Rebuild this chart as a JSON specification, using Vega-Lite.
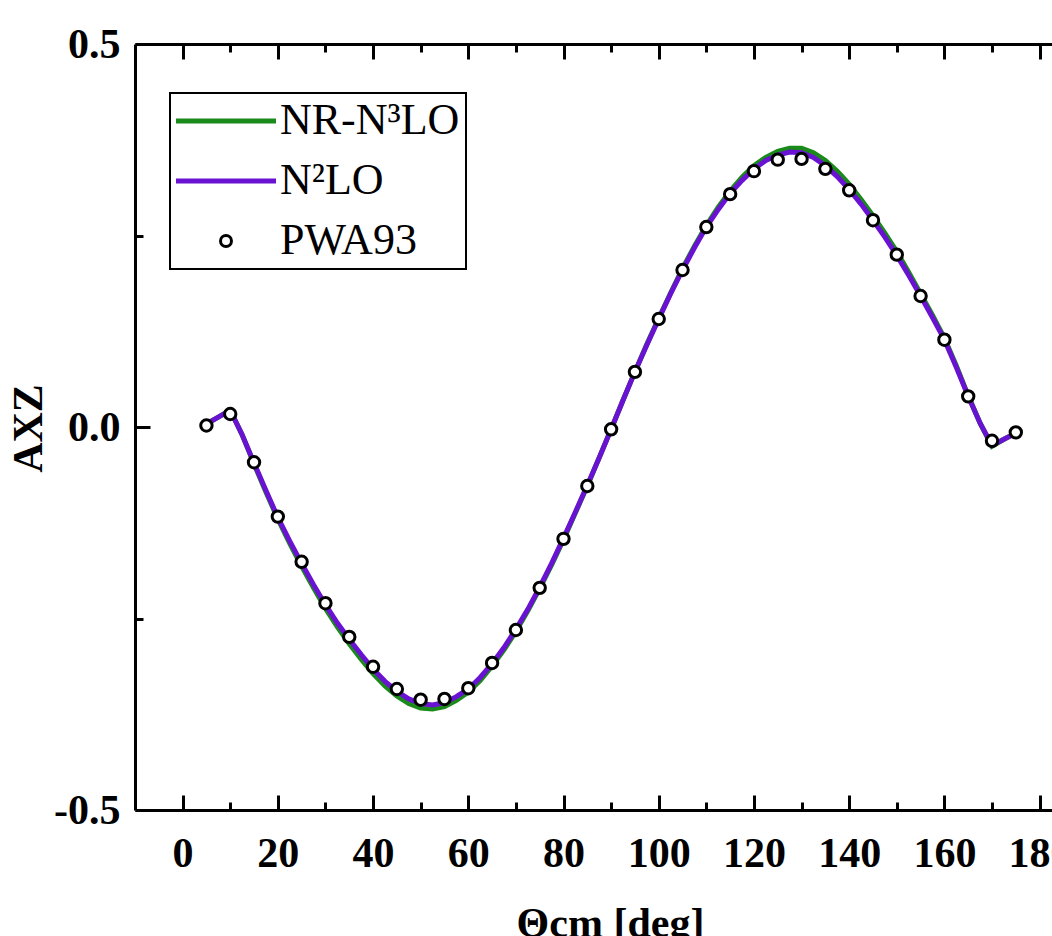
{
  "$schema": "https://vega.github.io/schema/vega-lite/v6.json",
  "width": 917,
  "height": 766,
  "autosize": "none",
  "padding": {"left": 135, "top": 44, "right": 0, "bottom": 126},
  "background": "white",
  "config": {
    "view": {"stroke": null},
    "axis": {
      "grid": false,
      "domainColor": "black",
      "domainWidth": 3,
      "tickColor": "black",
      "tickWidth": 3,
      "labelFont": "Liberation Serif",
      "labelFontWeight": "bold",
      "labelFontSize": 42,
      "labelColor": "black",
      "titleFont": "Liberation Serif",
      "titleFontWeight": "bold",
      "titleFontSize": 42,
      "titleColor": "black",
      "labelFlush": false,
      "labelOverlap": false
    }
  },
  "datasets": {
    "curves": [
      {"theta": 5, "AXZ": 0.004, "series": "NR-N³LO"},
      {"theta": 7.5, "AXZ": 0.013, "series": "NR-N³LO"},
      {"theta": 10, "AXZ": 0.022, "series": "NR-N³LO"},
      {"theta": 12.5, "AXZ": -0.010, "series": "NR-N³LO"},
      {"theta": 15, "AXZ": -0.048, "series": "NR-N³LO"},
      {"theta": 17.5, "AXZ": -0.085, "series": "NR-N³LO"},
      {"theta": 20, "AXZ": -0.120, "series": "NR-N³LO"},
      {"theta": 22.5, "AXZ": -0.152, "series": "NR-N³LO"},
      {"theta": 25, "AXZ": -0.182, "series": "NR-N³LO"},
      {"theta": 27.5, "AXZ": -0.210, "series": "NR-N³LO"},
      {"theta": 30, "AXZ": -0.237, "series": "NR-N³LO"},
      {"theta": 32.5, "AXZ": -0.261, "series": "NR-N³LO"},
      {"theta": 35, "AXZ": -0.283, "series": "NR-N³LO"},
      {"theta": 37.5, "AXZ": -0.303, "series": "NR-N³LO"},
      {"theta": 40, "AXZ": -0.322, "series": "NR-N³LO"},
      {"theta": 42.5, "AXZ": -0.338, "series": "NR-N³LO"},
      {"theta": 45, "AXZ": -0.351, "series": "NR-N³LO"},
      {"theta": 47.5, "AXZ": -0.361, "series": "NR-N³LO"},
      {"theta": 50, "AXZ": -0.367, "series": "NR-N³LO"},
      {"theta": 52.5, "AXZ": -0.368, "series": "NR-N³LO"},
      {"theta": 55, "AXZ": -0.365, "series": "NR-N³LO"},
      {"theta": 57.5, "AXZ": -0.357, "series": "NR-N³LO"},
      {"theta": 60, "AXZ": -0.346, "series": "NR-N³LO"},
      {"theta": 62.5, "AXZ": -0.331, "series": "NR-N³LO"},
      {"theta": 65, "AXZ": -0.312, "series": "NR-N³LO"},
      {"theta": 67.5, "AXZ": -0.291, "series": "NR-N³LO"},
      {"theta": 70, "AXZ": -0.267, "series": "NR-N³LO"},
      {"theta": 72.5, "AXZ": -0.240, "series": "NR-N³LO"},
      {"theta": 75, "AXZ": -0.211, "series": "NR-N³LO"},
      {"theta": 77.5, "AXZ": -0.180, "series": "NR-N³LO"},
      {"theta": 80, "AXZ": -0.147, "series": "NR-N³LO"},
      {"theta": 82.5, "AXZ": -0.112, "series": "NR-N³LO"},
      {"theta": 85, "AXZ": -0.077, "series": "NR-N³LO"},
      {"theta": 87.5, "AXZ": -0.040, "series": "NR-N³LO"},
      {"theta": 90, "AXZ": -0.003, "series": "NR-N³LO"},
      {"theta": 92.5, "AXZ": 0.035, "series": "NR-N³LO"},
      {"theta": 95, "AXZ": 0.072, "series": "NR-N³LO"},
      {"theta": 97.5, "AXZ": 0.108, "series": "NR-N³LO"},
      {"theta": 100, "AXZ": 0.142, "series": "NR-N³LO"},
      {"theta": 102.5, "AXZ": 0.175, "series": "NR-N³LO"},
      {"theta": 105, "AXZ": 0.207, "series": "NR-N³LO"},
      {"theta": 107.5, "AXZ": 0.236, "series": "NR-N³LO"},
      {"theta": 110, "AXZ": 0.263, "series": "NR-N³LO"},
      {"theta": 112.5, "AXZ": 0.287, "series": "NR-N³LO"},
      {"theta": 115, "AXZ": 0.308, "series": "NR-N³LO"},
      {"theta": 117.5, "AXZ": 0.326, "series": "NR-N³LO"},
      {"theta": 120, "AXZ": 0.341, "series": "NR-N³LO"},
      {"theta": 122.5, "AXZ": 0.352, "series": "NR-N³LO"},
      {"theta": 125, "AXZ": 0.360, "series": "NR-N³LO"},
      {"theta": 127.5, "AXZ": 0.364, "series": "NR-N³LO"},
      {"theta": 130, "AXZ": 0.364, "series": "NR-N³LO"},
      {"theta": 132.5, "AXZ": 0.358, "series": "NR-N³LO"},
      {"theta": 135, "AXZ": 0.348, "series": "NR-N³LO"},
      {"theta": 137.5, "AXZ": 0.334, "series": "NR-N³LO"},
      {"theta": 140, "AXZ": 0.317, "series": "NR-N³LO"},
      {"theta": 142.5, "AXZ": 0.297, "series": "NR-N³LO"},
      {"theta": 145, "AXZ": 0.276, "series": "NR-N³LO"},
      {"theta": 147.5, "AXZ": 0.253, "series": "NR-N³LO"},
      {"theta": 150, "AXZ": 0.229, "series": "NR-N³LO"},
      {"theta": 152.5, "AXZ": 0.202, "series": "NR-N³LO"},
      {"theta": 155, "AXZ": 0.174, "series": "NR-N³LO"},
      {"theta": 157.5, "AXZ": 0.146, "series": "NR-N³LO"},
      {"theta": 160, "AXZ": 0.116, "series": "NR-N³LO"},
      {"theta": 162.5, "AXZ": 0.080, "series": "NR-N³LO"},
      {"theta": 165, "AXZ": 0.041, "series": "NR-N³LO"},
      {"theta": 167.5, "AXZ": 0.005, "series": "NR-N³LO"},
      {"theta": 170, "AXZ": -0.025, "series": "NR-N³LO"},
      {"theta": 172.5, "AXZ": -0.016, "series": "NR-N³LO"},
      {"theta": 175, "AXZ": -0.008, "series": "NR-N³LO"},
      {"theta": 5, "AXZ": 0.004, "series": "N²LO"},
      {"theta": 7.5, "AXZ": 0.013, "series": "N²LO"},
      {"theta": 10, "AXZ": 0.022, "series": "N²LO"},
      {"theta": 12.5, "AXZ": -0.010, "series": "N²LO"},
      {"theta": 15, "AXZ": -0.047, "series": "N²LO"},
      {"theta": 17.5, "AXZ": -0.083, "series": "N²LO"},
      {"theta": 20, "AXZ": -0.118, "series": "N²LO"},
      {"theta": 22.5, "AXZ": -0.149, "series": "N²LO"},
      {"theta": 25, "AXZ": -0.178, "series": "N²LO"},
      {"theta": 27.5, "AXZ": -0.206, "series": "N²LO"},
      {"theta": 30, "AXZ": -0.232, "series": "N²LO"},
      {"theta": 32.5, "AXZ": -0.256, "series": "N²LO"},
      {"theta": 35, "AXZ": -0.277, "series": "N²LO"},
      {"theta": 37.5, "AXZ": -0.297, "series": "N²LO"},
      {"theta": 40, "AXZ": -0.316, "series": "N²LO"},
      {"theta": 42.5, "AXZ": -0.332, "series": "N²LO"},
      {"theta": 45, "AXZ": -0.345, "series": "N²LO"},
      {"theta": 47.5, "AXZ": -0.355, "series": "N²LO"},
      {"theta": 50, "AXZ": -0.361, "series": "N²LO"},
      {"theta": 52.5, "AXZ": -0.363, "series": "N²LO"},
      {"theta": 55, "AXZ": -0.360, "series": "N²LO"},
      {"theta": 57.5, "AXZ": -0.352, "series": "N²LO"},
      {"theta": 60, "AXZ": -0.342, "series": "N²LO"},
      {"theta": 62.5, "AXZ": -0.327, "series": "N²LO"},
      {"theta": 65, "AXZ": -0.309, "series": "N²LO"},
      {"theta": 67.5, "AXZ": -0.288, "series": "N²LO"},
      {"theta": 70, "AXZ": -0.264, "series": "N²LO"},
      {"theta": 72.5, "AXZ": -0.238, "series": "N²LO"},
      {"theta": 75, "AXZ": -0.209, "series": "N²LO"},
      {"theta": 77.5, "AXZ": -0.178, "series": "N²LO"},
      {"theta": 80, "AXZ": -0.145, "series": "N²LO"},
      {"theta": 82.5, "AXZ": -0.111, "series": "N²LO"},
      {"theta": 85, "AXZ": -0.076, "series": "N²LO"},
      {"theta": 87.5, "AXZ": -0.040, "series": "N²LO"},
      {"theta": 90, "AXZ": -0.003, "series": "N²LO"},
      {"theta": 92.5, "AXZ": 0.035, "series": "N²LO"},
      {"theta": 95, "AXZ": 0.072, "series": "N²LO"},
      {"theta": 97.5, "AXZ": 0.107, "series": "N²LO"},
      {"theta": 100, "AXZ": 0.141, "series": "N²LO"},
      {"theta": 102.5, "AXZ": 0.174, "series": "N²LO"},
      {"theta": 105, "AXZ": 0.205, "series": "N²LO"},
      {"theta": 107.5, "AXZ": 0.234, "series": "N²LO"},
      {"theta": 110, "AXZ": 0.261, "series": "N²LO"},
      {"theta": 112.5, "AXZ": 0.284, "series": "N²LO"},
      {"theta": 115, "AXZ": 0.305, "series": "N²LO"},
      {"theta": 117.5, "AXZ": 0.322, "series": "N²LO"},
      {"theta": 120, "AXZ": 0.337, "series": "N²LO"},
      {"theta": 122.5, "AXZ": 0.348, "series": "N²LO"},
      {"theta": 125, "AXZ": 0.355, "series": "N²LO"},
      {"theta": 127.5, "AXZ": 0.359, "series": "N²LO"},
      {"theta": 130, "AXZ": 0.358, "series": "N²LO"},
      {"theta": 132.5, "AXZ": 0.352, "series": "N²LO"},
      {"theta": 135, "AXZ": 0.341, "series": "N²LO"},
      {"theta": 137.5, "AXZ": 0.327, "series": "N²LO"},
      {"theta": 140, "AXZ": 0.310, "series": "N²LO"},
      {"theta": 142.5, "AXZ": 0.291, "series": "N²LO"},
      {"theta": 145, "AXZ": 0.270, "series": "N²LO"},
      {"theta": 147.5, "AXZ": 0.248, "series": "N²LO"},
      {"theta": 150, "AXZ": 0.224, "series": "N²LO"},
      {"theta": 152.5, "AXZ": 0.198, "series": "N²LO"},
      {"theta": 155, "AXZ": 0.171, "series": "N²LO"},
      {"theta": 157.5, "AXZ": 0.143, "series": "N²LO"},
      {"theta": 160, "AXZ": 0.114, "series": "N²LO"},
      {"theta": 162.5, "AXZ": 0.078, "series": "N²LO"},
      {"theta": 165, "AXZ": 0.040, "series": "N²LO"},
      {"theta": 167.5, "AXZ": 0.005, "series": "N²LO"},
      {"theta": 170, "AXZ": -0.024, "series": "N²LO"},
      {"theta": 172.5, "AXZ": -0.016, "series": "N²LO"},
      {"theta": 175, "AXZ": -0.008, "series": "N²LO"}
    ],
    "pwa": [
      {"theta": 5, "AXZ": 0.002, "series": "PWA93"},
      {"theta": 10, "AXZ": 0.017, "series": "PWA93"},
      {"theta": 15, "AXZ": -0.046, "series": "PWA93"},
      {"theta": 20, "AXZ": -0.117, "series": "PWA93"},
      {"theta": 25, "AXZ": -0.176, "series": "PWA93"},
      {"theta": 30, "AXZ": -0.230, "series": "PWA93"},
      {"theta": 35, "AXZ": -0.274, "series": "PWA93"},
      {"theta": 40, "AXZ": -0.313, "series": "PWA93"},
      {"theta": 45, "AXZ": -0.342, "series": "PWA93"},
      {"theta": 50, "AXZ": -0.356, "series": "PWA93"},
      {"theta": 55, "AXZ": -0.355, "series": "PWA93"},
      {"theta": 60, "AXZ": -0.341, "series": "PWA93"},
      {"theta": 65, "AXZ": -0.308, "series": "PWA93"},
      {"theta": 70, "AXZ": -0.265, "series": "PWA93"},
      {"theta": 75, "AXZ": -0.210, "series": "PWA93"},
      {"theta": 80, "AXZ": -0.146, "series": "PWA93"},
      {"theta": 85, "AXZ": -0.077, "series": "PWA93"},
      {"theta": 90, "AXZ": -0.003, "series": "PWA93"},
      {"theta": 95, "AXZ": 0.072, "series": "PWA93"},
      {"theta": 100, "AXZ": 0.141, "series": "PWA93"},
      {"theta": 105, "AXZ": 0.205, "series": "PWA93"},
      {"theta": 110, "AXZ": 0.261, "series": "PWA93"},
      {"theta": 115, "AXZ": 0.304, "series": "PWA93"},
      {"theta": 120, "AXZ": 0.334, "series": "PWA93"},
      {"theta": 125, "AXZ": 0.349, "series": "PWA93"},
      {"theta": 130, "AXZ": 0.350, "series": "PWA93"},
      {"theta": 135, "AXZ": 0.337, "series": "PWA93"},
      {"theta": 140, "AXZ": 0.309, "series": "PWA93"},
      {"theta": 145, "AXZ": 0.270, "series": "PWA93"},
      {"theta": 150, "AXZ": 0.225, "series": "PWA93"},
      {"theta": 155, "AXZ": 0.171, "series": "PWA93"},
      {"theta": 160, "AXZ": 0.114, "series": "PWA93"},
      {"theta": 165, "AXZ": 0.040, "series": "PWA93"},
      {"theta": 170, "AXZ": -0.018, "series": "PWA93"},
      {"theta": 175, "AXZ": -0.007, "series": "PWA93"}
    ]
  },
  "resolve": {"axis": {"x": "independent", "y": "independent"}},
  "layer": [
    {
      "data": {"name": "curves"},
      "transform": [{"filter": "datum.series === 'NR-N³LO'"}],
      "mark": {"type": "line", "strokeWidth": 5, "clip": true},
      "encoding": {
        "x": {
          "field": "theta", "type": "quantitative",
          "scale": {"domain": [-10, 182.6], "nice": false, "zero": false},
          "axis": {
            "orient": "bottom",
            "title": "Θcm [deg]",
            "values": [0, 10, 20, 30, 40, 50, 60, 70, 80, 90, 100, 110, 120, 130, 140, 150, 160, 170, 180],
            "labelExpr": "datum.value % 20 === 0 ? format(datum.value, 'd') : ''",
            "tickSize": {"condition": {"test": "datum.value % 20 === 0", "value": -15}, "value": -8},
            "labelPadding": 38,
            "titleX": 475,
            "titleY": 126,
            "titleBaseline": "alphabetic",
            "titleAnchor": null
          }
        },
        "y": {
          "field": "AXZ", "type": "quantitative",
          "scale": {"domain": [-0.5, 0.5], "nice": false},
          "axis": {
            "orient": "left",
            "title": "AXZ",
            "values": [-0.5, -0.25, 0, 0.25, 0.5],
            "labelExpr": "abs(datum.value) === 0.25 ? '' : replace(format(datum.value, '.1f'), '−', '-')",
            "tickSize": {"condition": {"test": "abs(datum.value) === 0.25", "value": -8}, "value": -15},
            "labelPadding": 30,
            "titleAngle": -90,
            "titleX": -107,
            "titleY": 384,
            "titleAlign": "center",
            "titleBaseline": "middle",
            "titleAnchor": null
          }
        },
        "color": {
          "field": "series", "type": "nominal",
          "scale": {"domain": ["NR-N³LO", "N²LO", "PWA93"], "range": ["#1a8a1a", "#6a12d2", "black"]},
          "legend": {
            "orient": "none",
            "legendX": 35,
            "legendY": 49,
            "title": null,
            "strokeColor": "black",
            "padding": 6,
            "labelFont": "Liberation Serif",
            "labelFontSize": 44,
            "labelColor": "black",
            "labelLimit": 0,
            "labelOffset": 5,
            "symbolSize": 10000,
            "symbolType": "stroke",
            "symbolStrokeWidth": 5,
            "rowPadding": 16,
            "encode": {
              "legend": {"update": {"strokeWidth": {"value": 2}}},
              "symbols": {
                "update": {
                  "x": {"value": 50},
                  "shape": {"signal": "datum.value === 'PWA93' ? 'circle' : 'stroke'"},
                  "size": {"signal": "datum.value === 'PWA93' ? 120 : 10000"},
                  "strokeWidth": {"signal": "datum.value === 'PWA93' ? 3 : 5"},
                  "fill": {"signal": "datum.value === 'PWA93' ? 'white' : 'transparent'"},
                  "opacity": {"value": 1}
                }
              },
              "labels": {"update": {"x": {"value": 104}}}
            }
          }
        }
      }
    },
    {
      "data": {"name": "curves"},
      "transform": [{"filter": "datum.series === 'N²LO'"}],
      "mark": {"type": "line", "strokeWidth": 5, "clip": true},
      "encoding": {
        "x": {
          "field": "theta", "type": "quantitative",
          "axis": {
            "orient": "top",
            "title": null,
            "labels": false,
            "values": [0, 10, 20, 30, 40, 50, 60, 70, 80, 90, 100, 110, 120, 130, 140, 150, 160, 170, 180],
            "tickSize": {"condition": {"test": "datum.value % 20 === 0", "value": -15}, "value": -8}
          }
        },
        "y": {"field": "AXZ", "type": "quantitative", "axis": null},
        "color": {"field": "series", "type": "nominal"}
      }
    },
    {
      "data": {"name": "pwa"},
      "mark": {"type": "point", "shape": "circle", "filled": false, "fill": "white", "fillOpacity": 1, "strokeWidth": 3, "size": 130, "opacity": 1},
      "encoding": {
        "x": {"field": "theta", "type": "quantitative", "axis": null},
        "y": {"field": "AXZ", "type": "quantitative", "axis": null},
        "color": {"field": "series", "type": "nominal"}
      }
    }
  ]
}
